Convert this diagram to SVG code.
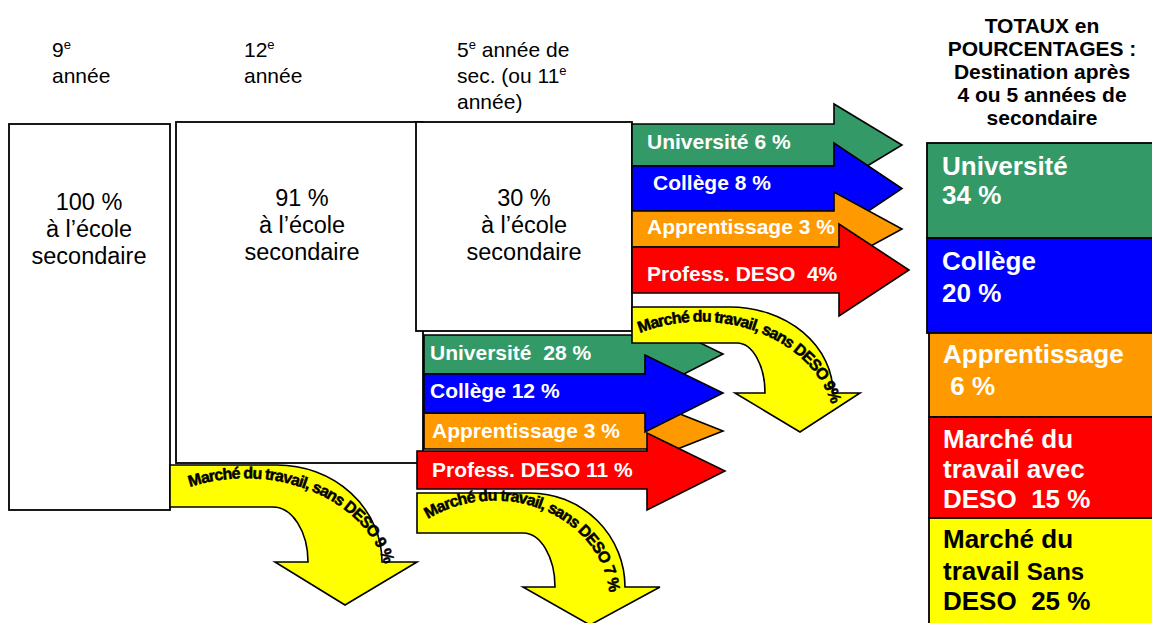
<svg xmlns="http://www.w3.org/2000/svg" width="1152" height="623" viewBox="0 0 1152 623">
<style>
  .box { fill: #ffffff; stroke: #000000; stroke-width: 1.8; }
  .hdr { font-family: "Liberation Sans", Arial, sans-serif; font-size: 21px; fill: #000000; }
  .sup { font-size: 13px; }
  .btx { font-family: "Liberation Sans", Arial, sans-serif; font-size: 23.5px; fill: #000000; text-anchor: middle; }
  .ttl { font-family: "Liberation Sans", Arial, sans-serif; font-size: 21px; font-weight: bold; fill: #000000; text-anchor: middle; }
  .tot { stroke: #000000; stroke-width: 1.8; }
  .ttx { font-family: "Liberation Sans", Arial, sans-serif; font-size: 26px; font-weight: bold; fill: #ffffff; }
  .blk { fill: #000000; }
  .arr { stroke: #000000; stroke-width: 1.6; stroke-linejoin: miter; }
  .atx { font-family: "Liberation Sans", Arial, sans-serif; font-size: 21px; font-weight: bold; fill: #ffffff; }
  .crv { fill: #ffff00; stroke: #000000; stroke-width: 1.6; }
  .ctx { font-family: "Liberation Sans", Arial, sans-serif; font-size: 16px; font-weight: bold; fill: #000000; stroke: #000000; stroke-width: 0.5; letter-spacing: -0.9px; }
  .g { fill: #339966; } .b { fill: #0000ff; } .o { fill: #ff9900; } .r { fill: #ff0000; } .y { fill: #ffff00; }
</style>
<defs>
  <path id="tp1" d="M190,487 A143,112 0 0 1 386,610"/>
  <path id="tp2" d="M428,519 A115,100 0 0 1 608,617"/>
  <path id="tp3" d="M640,333 A135,108 0 0 1 833,449"/>
</defs>
<rect width="1152" height="623" fill="#ffffff"/>

<g id="headers">
  <text class="hdr" x="52" y="57">9<tspan class="sup" dy="-8">e</tspan></text>
  <text class="hdr" x="52" y="83">année</text>
  <text class="hdr" x="244" y="57">12<tspan class="sup" dy="-8">e</tspan></text>
  <text class="hdr" x="244" y="83">année</text>
  <text class="hdr" x="457" y="57">5<tspan class="sup" dy="-8">e</tspan><tspan dy="8"> année de</tspan></text>
  <text class="hdr" x="457" y="83">sec. (ou 11<tspan class="sup" dy="-8">e</tspan></text>
  <text class="hdr" x="457" y="109">année)</text>
</g>

<g id="box-9e">
  <rect class="box" x="9" y="124" width="161" height="386"/>
  <text class="btx" x="89" y="210">100 %</text>
  <text class="btx" x="89" y="237">à l’école</text>
  <text class="btx" x="89" y="264">secondaire</text>
</g>
<g id="box-12e">
  <rect class="box" x="176" y="122" width="247" height="341"/>
  <text class="btx" x="302" y="206">91 %</text>
  <text class="btx" x="302" y="233">à l’école</text>
  <text class="btx" x="302" y="260">secondaire</text>
</g>
<g id="box-5e">
  <rect class="box" x="416" y="122" width="216" height="209"/>
  <text class="btx" x="524" y="206">30 %</text>
  <text class="btx" x="524" y="233">à l’école</text>
  <text class="btx" x="524" y="260">secondaire</text>
</g>

<g id="totaux">
  <text class="ttl" x="1042" y="33">TOTAUX en</text>
  <text class="ttl" x="1042" y="56">POURCENTAGES :</text>
  <text class="ttl" x="1042" y="79">Destination après</text>
  <text class="ttl" x="1042" y="102">4 ou 5 années de</text>
  <text class="ttl" x="1042" y="125">secondaire</text>
</g>
<g id="tot-universite">
  <rect class="tot g" x="927" y="143" width="240" height="95"/>
  <text class="ttx" x="942" y="175">Université</text>
  <text class="ttx" x="942" y="204">34 %</text>
</g>
<g id="tot-college">
  <rect class="tot b" x="927" y="238" width="240" height="95"/>
  <text class="ttx" x="942" y="270">Collège</text>
  <text class="ttx" x="942" y="302">20 %</text>
</g>
<g id="tot-apprentissage">
  <rect class="tot o" x="929" y="333" width="240" height="84"/>
  <text class="ttx" x="943" y="363">Apprentissage</text>
  <text class="ttx" x="943" y="395" xml:space="preserve"> 6 %</text>
</g>
<g id="tot-avec-deso">
  <rect class="tot r" x="929" y="417" width="240" height="101"/>
  <text class="ttx" x="943" y="448">Marché du</text>
  <text class="ttx" x="943" y="478">travail avec</text>
  <text class="ttx" x="943" y="508" xml:space="preserve">DESO  15 %</text>
</g>
<g id="tot-sans-deso">
  <rect class="tot y" x="929" y="518" width="240" height="115"/>
  <text class="ttx blk" x="943" y="548" style="fill:#000000">Marché du</text>
  <text class="ttx blk" x="943" y="580" style="fill:#000000">travail <tspan font-size="24">Sans</tspan></text>
  <text class="ttx blk" x="943" y="610" style="fill:#000000" xml:space="preserve">DESO  25 %</text>
</g>

<g id="connectors">
  <g id="c-9e-sans">
    <path class="crv" d="M170,465 H277 A105,97 0 0 1 382,562 H417 L345,605 L275,562 H308 A35,55 0 0 0 273,507 H170 Z"/>
    <text class="ctx"><textPath href="#tp1">Marché du travail, sans DESO 9 %</textPath></text>
  </g>
  <g id="c-12e-universite">
    <path class="arr g" d="M424,335 H645 V316 L723,354 L645,394 V374 H424 Z"/>
    <text class="atx" x="430" y="360" xml:space="preserve">Université  28 %</text>
  </g>
  <g id="c-12e-apprentissage">
    <path class="arr o" d="M424,413 H647 V401 L723,431 L647,461 V449 H424 Z"/>
    <text class="atx" x="432" y="438">Apprentissage 3 %</text>
  </g>
  <g id="c-12e-college">
    <path class="arr b" d="M424,374 H645 V355 L723,393 L645,432 V413 H424 Z"/>
    <text class="atx" x="430" y="398">Collège 12 %</text>
  </g>
  <g id="c-12e-deso">
    <path class="arr r" d="M417,451 H647 V433 L725,471 L647,510 V489 H417 Z"/>
    <text class="atx" x="432" y="477">Profess. DESO 11 %</text>
  </g>
  <g id="c-12e-sans">
    <path class="crv" d="M417,493 H530 A95,94 0 0 1 625,587 H660 L590,625 L523,587 H555 A32,54 0 0 0 523,533 H417 Z"/>
    <text class="ctx"><textPath href="#tp2">Marché du travail, sans DESO 7 %</textPath></text>
  </g>
  <g id="c-5e-universite">
    <path class="arr g" d="M632,124 H834 V104 L902,145 L834,186 V166 H632 Z"/>
    <text class="atx" x="647" y="149">Université 6 %</text>
  </g>
  <g id="c-5e-college">
    <path class="arr b" d="M632,166 H834 V143 L902,188.5 L834,234 V211 H632 Z"/>
    <text class="atx" x="653" y="190">Collège 8 %</text>
  </g>
  <g id="c-5e-apprentissage">
    <path class="arr o" d="M632,211 H834 V192 L902,229 L834,266 V247 H632 Z"/>
    <text class="atx" x="647" y="234">Apprentissage 3 %</text>
  </g>
  <g id="c-5e-deso">
    <path class="arr r" d="M632,247 H839 V224 L909,270 L839,316 V293 H632 Z"/>
    <text class="atx" x="647" y="281" xml:space="preserve">Profess. DESO  4%</text>
  </g>
  <g id="c-5e-sans">
    <path class="crv" d="M632,307 H730 A103,86 0 0 1 833,393 H860 L800,432 L735,393 H765 A28,50 0 0 0 737,343 H632 Z"/>
    <text class="ctx"><textPath href="#tp3">Marché du travail, sans DESO 9%</textPath></text>
  </g>
</g>
</svg>
